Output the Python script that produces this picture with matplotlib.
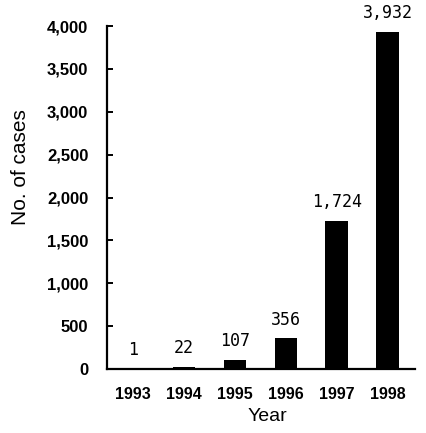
import matplotlib.pyplot as plt
from matplotlib.ticker import FuncFormatter

years = ["1993", "1994", "1995", "1996", "1997", "1998"]
cases = [1, 22, 107, 356, 1724, 3932]
yticks = [0, 500, 1000, 1500, 2000, 2500, 3000, 3500, 4000]

fig = plt.figure(figsize=(4.27, 4.33), dpi=100)
ax = fig.add_axes([0.2506, 0.1478, 0.7214, 0.792])

x = list(range(len(years)))
ax.bar(x, cases, width=0.44, color="black")

for xi, v in zip(x, cases):
    ax.annotate(f"{v:,}", (xi, v), xytext=(0, 7), textcoords="offset points",
                ha="center", va="bottom", family="DejaVu Sans Mono", fontsize=12)

ax.set_xlim(-0.51, 5.54)
ax.set_ylim(0, 4000)
ax.set_yticks(yticks)
ax.yaxis.set_major_formatter(FuncFormatter(lambda v, _: f"{int(v):,}"))
ax.set_xticks(x)
ax.set_xticklabels(years)

for s in ["top", "right"]:
    ax.spines[s].set_visible(False)
for s in ["left", "bottom"]:
    ax.spines[s].set_linewidth(1.6)

ax.tick_params(axis="y", direction="in", length=4, width=1.4, pad=13.5)
ax.tick_params(axis="x", length=0, pad=13)
for lab in ax.get_yticklabels():
    lab.set_family("Liberation Sans")
    lab.set_fontweight("bold")
    lab.set_fontsize(12)
for lab in ax.get_xticklabels():
    lab.set_family("Liberation Sans")
    lab.set_fontweight("bold")
    lab.set_fontsize(11.5)

ax.set_ylabel("No. of cases", family="Liberation Sans", fontsize=15, va="center")
ax.yaxis.set_label_coords(-0.28, 0.589)
ax.set_xlabel("Year", family="Liberation Sans", fontsize=14, va="top")
ax.xaxis.set_label_coords(0.52, -0.115)

fig.savefig("out.png", dpi=100)
